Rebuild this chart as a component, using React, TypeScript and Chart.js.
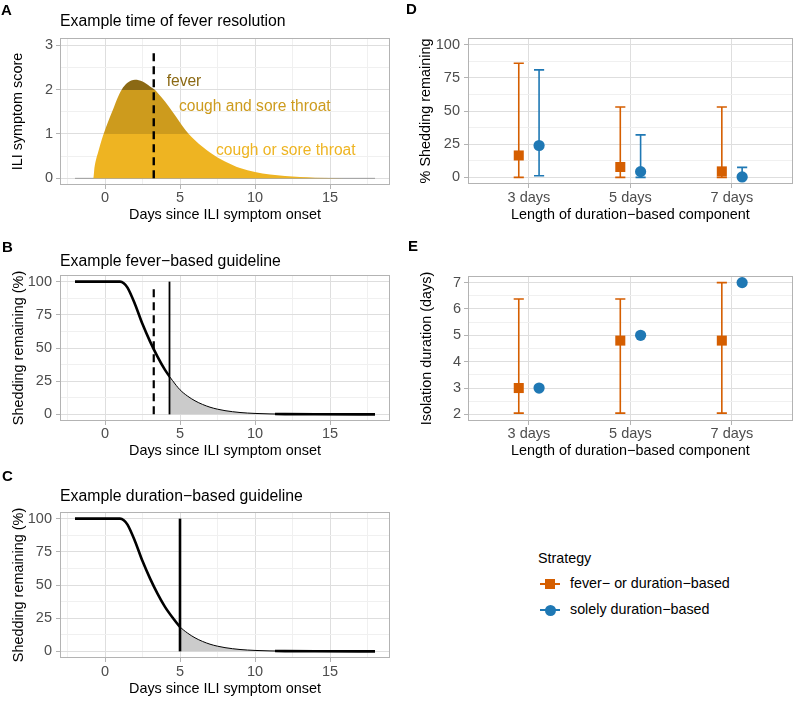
import React, { useEffect, useRef } from "react";
import { Chart, registerables } from "chart.js";

// ===================== DATA =====================
// Panel A: ILI symptom score over time
const symptomDays = [-2, -0.78, -0.7, -0.6, -0.45, -0.3, -0.1, 0.2, 0.5, 0.8, 1.1, 1.5, 2, 2.5, 3, 3.3, 3.5, 4, 4.5, 5, 5.5, 6, 6.5, 7, 7.5, 8, 8.5, 9, 10, 11, 12, 13, 14, 16, 18];
const symptomScore = [0, 0, 0.25, 0.42, 0.6, 0.78, 0.99, 1.27, 1.52, 1.78, 1.99, 2.15, 2.22, 2.18, 2.07, 2.0, 1.93, 1.73, 1.5, 1.26, 1.03, 0.86, 0.71, 0.58, 0.47, 0.38, 0.3, 0.23, 0.14, 0.085, 0.05, 0.028, 0.014, 0.004, 0];
const bandLower = [0, 1, 2];
const bandUpper = [1, 2, 10];
const bandColors = ["#EEB422", "#CD9B1D", "#8B6914"];
const bandLabels = ["cough or sore throat", "cough and sore throat", "fever"];
const bandLabelX = [7.4, 4.93, 4.11];
const bandLabelY = [0.52, 1.51, 2.08];
const feverResolutionDay = 3.25;
const feverLineTop = 2.92;

// Panels B and C: shedding remaining (%)
const shedDays = [-2, 1.0, 1.25, 1.5, 2, 2.5, 3, 3.5, 4, 4.5, 5, 5.5, 6, 6.5, 7, 7.5, 8, 9, 10, 11, 12, 14, 18];
const shedPct = [100, 100, 98.8, 95.5, 83, 68, 55, 43.5, 33.5, 25.5, 18.5, 13.8, 10.2, 7.5, 5.4, 3.9, 2.8, 1.4, 0.7, 0.35, 0.15, 0.03, 0];
const feverGuidelineEnd = 4.3;
const durationGuidelineEnd = 5;
const feverLineTopPct = 97;
const tailThickFrom = 11.3;

// Panels D and E
const categories = ["3 days", "5 days", "7 days"];
const feverShedMid = [16.5, 7.8, 4.5];
const feverShedLow = [0, 0, 0];
const feverShedHigh = [86, 53, 53];
const durShedMid = [24, 4.3, 0.3];
const durShedLow = [1.2, 0, 0];
const durShedHigh = [81, 32, 7.5];
const feverIsoMid = [3, 4.8, 4.8];
const feverIsoLow = [2.05, 2.05, 2.05];
const feverIsoHigh = [6.38, 6.38, 7];
const durIsoMid = [3, 5, 7];

// tick values
const dayMajor = [0, 5, 10, 15];
const dayMinor = [-2.5, 2.5, 7.5, 12.5, 17.5];
const scoreMajor = [0, 1, 2, 3];
const scoreMinor = [0.5, 1.5, 2.5];
const pctMajor = [0, 25, 50, 75, 100];
const pctMinor = [12.5, 37.5, 62.5, 87.5];
const isoMajor = [2, 3, 4, 5, 6, 7];
const isoMinor = [2.5, 3.5, 4.5, 5.5, 6.5];
const catMajor = [1, 2, 3];

// ===================== STYLE =====================
const FONT = "'Liberation Sans', Arial, Helvetica, sans-serif";
const ORANGE = "#D55E00";
const BLUE = "#1F78B4";
const GRID_MAJOR = "#DEDEDE";
const GRID_MINOR = "#F0F0F0";
const BORDER = "#B3B3B3";
const TICK_TEXT = "#4D4D4D";
const TICK_SIZE = 14.5;
const AXIS_TITLE_SIZE = 14.4;
const TITLE_SIZE = 15.8;
const DODGE = 0.1;
const CAP = 0.05;

// clip plugin (registered before the built-ins so it runs before the filler)
const bandClip = {
  id: "bandClip",
  beforeDatasetDraw(chart: any, args: any) {
    const ds = chart.data.datasets[args.index];
    if (!ds.clipX && !ds.clipY) return;
    const { ctx, scales } = chart;
    let x1 = 0, x2 = chart.width, y1 = 0, y2 = chart.height;
    if (ds.clipX) {
      x1 = Math.round(scales.x.getPixelForValue(ds.clipX[0]));
      x2 = Math.round(scales.x.getPixelForValue(ds.clipX[1]));
    }
    if (ds.clipY) {
      y1 = Math.round(scales.y.getPixelForValue(ds.clipY[1]));
      y2 = Math.round(scales.y.getPixelForValue(ds.clipY[0]));
    }
    ctx.save();
    ctx.beginPath();
    ctx.rect(x1, y1, x2 - x1, y2 - y1);
    ctx.clip();
    ds.__clipped = true;
  },
  afterDatasetDraw(chart: any, args: any) {
    const ds = chart.data.datasets[args.index];
    if (ds.__clipped) {
      chart.ctx.restore();
      ds.__clipped = false;
    }
  },
};
Chart.register(bandClip as any);
Chart.register(...registerables);
Chart.defaults.font.family = FONT;

const panelBorder = {
  id: "panelBorder",
  afterDatasetsDraw(chart: any) {
    const { ctx, chartArea } = chart;
    const l = Math.round(chartArea.left), t = Math.round(chartArea.top);
    const r = Math.round(chartArea.right), b = Math.round(chartArea.bottom);
    ctx.save();
    ctx.strokeStyle = BORDER;
    ctx.lineWidth = 1;
    ctx.strokeRect(l + 0.5, t + 0.5, r - l - 1, b - t - 1);
    ctx.restore();
  },
};

const bandText = {
  id: "bandText",
  afterDatasetsDraw(chart: any) {
    const { ctx, scales } = chart;
    ctx.save();
    ctx.font = `15.6px ${FONT}`;
    ctx.textAlign = "left";
    ctx.textBaseline = "alphabetic";
    bandLabels.forEach((t, i) => {
      ctx.fillStyle = bandColors[i];
      ctx.fillText(t, scales.x.getPixelForValue(bandLabelX[i]), scales.y.getPixelForValue(bandLabelY[i]));
    });
    ctx.restore();
  },
};

type AxisOpts = {
  min: number; max: number; major: number[]; minor: number[];
  label?: (v: number) => string; title: string; size: number;
  tickPad: number; titlePad: number; horizontal: boolean;
};

function makeAxis(o: AxisOpts) {
  const all = [...o.major, ...o.minor].sort((a, b) => a - b);
  const isMajor = (c: any) => !!c.tick && o.major.includes(c.tick.value);
  return {
    type: "linear",
    min: o.min,
    max: o.max,
    bounds: "data",
    afterBuildTicks: (s: any) => { s.ticks = all.map((v) => ({ value: v })); },
    afterFit: (s: any) => { if (o.horizontal) s.height = o.size; else s.width = o.size; },
    border: { display: false },
    grid: {
      color: (c: any) => (isMajor(c) ? GRID_MAJOR : GRID_MINOR),
      lineWidth: 1,
      drawTicks: true,
      tickLength: 4,
      tickWidth: 1,
      tickColor: (c: any) => (isMajor(c) ? BORDER : "rgba(0,0,0,0)"),
    },
    ticks: {
      autoSkip: false, maxRotation: 0, minRotation: 0,
      padding: o.tickPad, color: TICK_TEXT, font: { size: TICK_SIZE },
      callback: (v: any) => (o.major.includes(v) ? (o.label ? o.label(v) : String(v)) : ""),
    },
    title: {
      display: true, text: o.title, color: "#000", font: { size: AXIS_TITLE_SIZE },
      padding: o.horizontal ? { top: 0, bottom: o.titlePad } : { top: o.titlePad, bottom: 0 },
    },
  };
}

function baseOptions(pad: any, x: any, y: any, title?: { text: string; top: number; bottom: number }) {
  return {
    responsive: false,
    maintainAspectRatio: false,
    animation: false,
    devicePixelRatio: 1,
    events: [],
    layout: { padding: pad },
    plugins: {
      legend: { display: false },
      tooltip: { enabled: false },
      title: title
        ? {
            display: true, text: title.text, align: "start", fullSize: false, color: "#000",
            font: { size: TITLE_SIZE, weight: "normal" }, padding: { top: title.top, bottom: title.bottom },
          }
        : { display: false },
    },
    scales: { x, y },
  };
}

const pts = (xs: number[], ys: number[]) => xs.map((x, i) => ({ x, y: ys[i] }));

function errorBarPath(lo: number[], hi: number[], offset: number) {
  const out: any[] = [];
  lo.forEach((l, i) => {
    const xc = i + 1 + offset;
    out.push(
      { x: xc - CAP, y: hi[i] }, { x: xc + CAP, y: hi[i] }, { x: xc, y: null },
      { x: xc, y: hi[i] }, { x: xc, y: l }, { x: xc, y: null },
      { x: xc - CAP, y: l }, { x: xc + CAP, y: l }, { x: xc, y: null }
    );
  });
  return out;
}

const lineDs = (data: any[], extra: any) => ({
  type: "line", data, pointRadius: 0, borderColor: "#000", borderWidth: 1,
  backgroundColor: "rgba(0,0,0,0)", fill: false, spanGaps: false, ...extra,
});

// ===================== CONFIGS =====================
function configA() {
  const curve = pts(symptomDays, symptomScore);
  const bands = bandLower.map((lo, i) =>
    lineDs(curve, {
      fill: "origin", backgroundColor: bandColors[i], borderColor: "rgba(0,0,0,0)",
      borderWidth: 1, cubicInterpolationMode: "monotone", clipY: [lo - (i === 0 ? 1 : 0), bandUpper[i]], order: 3,
    })
  );
  return {
    type: "line",
    data: {
      datasets: [
        lineDs([{ x: feverResolutionDay, y: 0 }, { x: feverResolutionDay, y: feverLineTop }], { borderWidth: 2.4, borderDash: [8, 5], order: 0 }),
        ...bands,
        lineDs([{ x: symptomDays[0], y: 0 }, { x: symptomDays[symptomDays.length - 1], y: 0 }], { borderColor: "#8A8A8A", borderWidth: 0.8, order: 5 }),
      ],
    },
    options: baseOptions(
      { left: 0, right: 10, top: 0, bottom: 0 },
      makeAxis({ min: -3, max: 19, major: dayMajor, minor: dayMinor, title: "Days since ILI symptom onset", size: 40, tickPad: 0.3, titlePad: 1.4, horizontal: true }),
      makeAxis({ min: -0.15, max: 3.16, major: scoreMajor, minor: scoreMinor, title: "ILI symptom score", size: 60, tickPad: 3, titlePad: 9.6, horizontal: false }),
      { text: "Example time of fever resolution", top: 11.8, bottom: 7.24 }
    ),
    plugins: [bandText, panelBorder],
  };
}

function configShed(cutoff: number, dashedAt: number | null, solidWidth: number, titleText: string, titleTop: number, titleBottom: number, xSize: number, xTickPad: number, xTitlePad: number) {
  const curve = pts(shedDays, shedPct);
  const sets: any[] = [];
  if (dashedAt !== null) {
    sets.push(lineDs([{ x: dashedAt, y: 0 }, { x: dashedAt, y: feverLineTopPct }], { borderWidth: 2.2, borderDash: [8, 5], order: 0 }));
  }
  sets.push(
    lineDs([{ x: cutoff, y: 0 }, { x: cutoff, y: 100 }], { borderWidth: solidWidth, order: 0 }),
    lineDs(curve, { borderWidth: 2.6, cubicInterpolationMode: "monotone", clipX: [-3, cutoff], order: 1 }),
    lineDs(curve, { borderWidth: 2.6, cubicInterpolationMode: "monotone", clipX: [tailThickFrom, 19], order: 1 }),
    lineDs(curve, { borderWidth: 1, fill: "origin", backgroundColor: "#CBCBCB", cubicInterpolationMode: "monotone", clipX: [cutoff, 19], order: 2 })
  );
  return {
    type: "line",
    data: { datasets: sets },
    options: baseOptions(
      { left: 0, right: 10, top: 0, bottom: 0 },
      makeAxis({ min: -3, max: 19, major: dayMajor, minor: dayMinor, title: "Days since ILI symptom onset", size: xSize, tickPad: xTickPad, titlePad: xTitlePad, horizontal: true }),
      makeAxis({ min: -5, max: 105, major: pctMajor, minor: pctMinor, title: "Shedding remaining (%)", size: 60, tickPad: 4, titlePad: 10.2, horizontal: false }),
      { text: titleText, top: titleTop, bottom: titleBottom }
    ),
    plugins: [panelBorder],
  };
}

function pointDs(mid: number[], offset: number, color: string, style: string, radius: number) {
  return {
    type: "line", showLine: false, data: mid.map((m, i) => ({ x: i + 1 + offset, y: m })),
    pointStyle: style, pointRadius: radius, pointBackgroundColor: color, pointBorderColor: color,
    pointBorderWidth: 0, borderColor: color, order: 0,
  };
}

function configD() {
  return {
    type: "line",
    data: {
      datasets: [
        pointDs(feverShedMid, -DODGE, ORANGE, "rect", 7.1),
        pointDs(durShedMid, DODGE, BLUE, "circle", 5.6),
        lineDs(errorBarPath(feverShedLow, feverShedHigh, -DODGE), { borderColor: ORANGE, borderWidth: 1.6, order: 2 }),
        lineDs(errorBarPath(durShedLow, durShedHigh, DODGE), { borderColor: BLUE, borderWidth: 1.6, order: 2 }),
      ],
    },
    options: baseOptions(
      { left: 0, right: 3, top: 38, bottom: 0 },
      makeAxis({ min: 0.4, max: 3.6, major: catMajor, minor: [], label: (v) => categories[v - 1], title: "Length of duration\u2212based component", size: 41, tickPad: 1.3, titlePad: 1.4, horizontal: true }),
      makeAxis({ min: -5, max: 105, major: pctMajor, minor: pctMinor, title: "% Shedding remaining", size: 68, tickPad: 4, titlePad: 17.1, horizontal: false })
    ),
    plugins: [panelBorder],
  };
}

function configE() {
  return {
    type: "line",
    data: {
      datasets: [
        pointDs(feverIsoMid, -DODGE, ORANGE, "rect", 7.1),
        pointDs(durIsoMid, DODGE, BLUE, "circle", 5.6),
        lineDs(errorBarPath(feverIsoLow, feverIsoHigh, -DODGE), { borderColor: ORANGE, borderWidth: 1.6, order: 2 }),
      ],
    },
    options: baseOptions(
      { left: 0, right: 3, top: 51, bottom: 0 },
      makeAxis({ min: 0.4, max: 3.6, major: catMajor, minor: [], label: (v) => categories[v - 1], title: "Length of duration\u2212based component", size: 41, tickPad: 0.7, titlePad: 2.4, horizontal: true }),
      makeAxis({ min: 1.75, max: 7.25, major: isoMajor, minor: isoMinor, title: "Isolation duration (days)", size: 68, tickPad: 3, titlePad: 18.1, horizontal: false })
    ),
    plugins: [panelBorder],
  };
}

// ===================== COMPONENTS =====================
function ChartBox({ left, top, width, height, make }: { left: number; top: number; width: number; height: number; make: () => any }) {
  const ref = useRef<HTMLCanvasElement>(null);
  useEffect(() => {
    const chart = new Chart(ref.current as HTMLCanvasElement, make());
    return () => chart.destroy();
  }, []);
  return (
    <canvas ref={ref} width={width} height={height}
      style={{ position: "absolute", left, top, width, height, display: "block" }} />
  );
}

const letterStyle = (left: number, top: number): React.CSSProperties => ({
  position: "absolute", left, top, font: `bold 15px ${FONT}`, lineHeight: "16px", color: "#000",
});
const textStyle = (left: number, top: number): React.CSSProperties => ({
  position: "absolute", left, top, font: `14.3px ${FONT}`, lineHeight: "16px", color: "#000", whiteSpace: "nowrap",
});

export default function App() {
  return (
    <div style={{ position: "absolute", left: 0, top: 0, width: 800, height: 701, background: "#fff", overflow: "hidden" }}>
      <ChartBox left={0} top={0} width={400} height={225} make={configA} />
      <ChartBox left={0} top={225} width={400} height={237}
        make={() => configShed(feverGuidelineEnd, feverResolutionDay, 1.8, "Example fever\u2212based guideline", 26.8, 4.24, 41, 0.1, 2.4)} />
      <ChartBox left={0} top={462} width={400} height={239}
        make={() => configShed(durationGuidelineEnd, null, 2.6, "Example duration\u2212based guideline", 25.5, 5.54, 43, 1.3, 3.4)} />
      <ChartBox left={400} top={0} width={400} height={225} make={configD} />
      <ChartBox left={400} top={225} width={400} height={237} make={configE} />

      <div style={letterStyle(1, 1.8)}>A</div>
      <div style={letterStyle(2, 238.5)}>B</div>
      <div style={letterStyle(2, 467.8)}>C</div>
      <div style={letterStyle(406, 0.8)}>D</div>
      <div style={letterStyle(408, 237.5)}>E</div>

      <div style={textStyle(538, 549.8)}>Strategy</div>
      <div style={{ position: "absolute", left: 540, top: 583, width: 20, height: 2, background: ORANGE }} />
      <div style={{ position: "absolute", left: 545, top: 579, width: 10, height: 10, background: ORANGE }} />
      <div style={textStyle(570, 575.4)}>fever{"\u2212"} or duration{"\u2212"}based</div>
      <div style={{ position: "absolute", left: 540, top: 609, width: 20, height: 2, background: BLUE }} />
      <div style={{ position: "absolute", left: 544.5, top: 604.5, width: 11, height: 11, borderRadius: "50%", background: BLUE }} />
      <div style={textStyle(570, 601.1)}>solely duration{"\u2212"}based</div>
    </div>
  );
}
